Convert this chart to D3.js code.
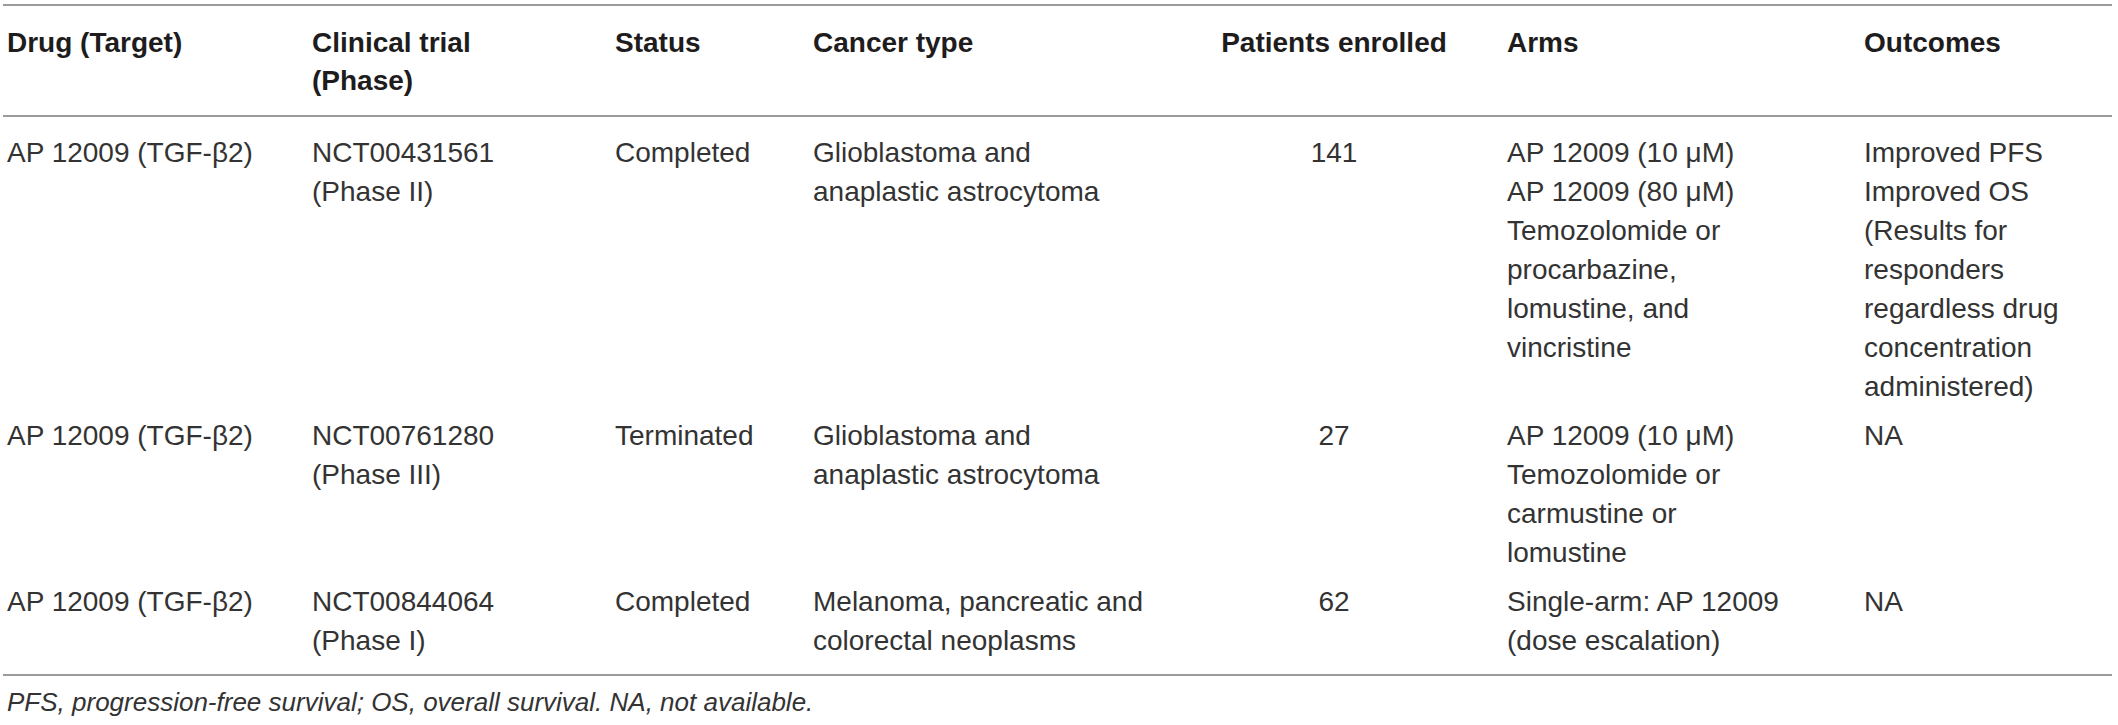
<!DOCTYPE html>
<html>
<head>
<meta charset="utf-8">
<script src="https://cdn.jsdelivr.net/npm/d3@7"></script>
<style>
  html, body { margin: 0; padding: 0; background: #fff; }
  svg { display: block; }
</style>
</head>
<body>
<svg id="chart"></svg>
<script>
// table content
const headers = [['Drug (Target)'], ['Clinical trial', '(Phase)'], ['Status'], ['Cancer type'], ['Patients enrolled'], ['Arms'], ['Outcomes']]
const drugs = ['AP 12009 (TGF-β2)', 'AP 12009 (TGF-β2)', 'AP 12009 (TGF-β2)']
const trials = [['NCT00431561', '(Phase II)'], ['NCT00761280', '(Phase III)'], ['NCT00844064', '(Phase I)']]
const statuses = ['Completed', 'Terminated', 'Completed']
const cancerTypes = [
  ['Glioblastoma and', 'anaplastic astrocytoma'],
  ['Glioblastoma and', 'anaplastic astrocytoma'],
  ['Melanoma, pancreatic and', 'colorectal neoplasms']
]
const patients = [141, 27, 62]
const arms = [
  ['AP 12009 (10 μM)', 'AP 12009 (80 μM)', 'Temozolomide or', 'procarbazine,', 'lomustine, and', 'vincristine'],
  ['AP 12009 (10 μM)', 'Temozolomide or', 'carmustine or', 'lomustine'],
  ['Single-arm: AP 12009', '(dose escalation)']
]
const outcomes = [
  ['Improved PFS', 'Improved OS', '(Results for', 'responders', 'regardless drug', 'concentration', 'administered)'],
  ['NA'],
  ['NA']
]
const footnote = 'PFS, progression-free survival; OS, overall survival. NA, not available.'

const W = 2118
const H = 725
const lineH = 39
const rowGap = 49
const font = '"Liberation Sans", Arial, Helvetica, sans-serif'

const svg = d3.select('#chart').attr('width', W).attr('height', H)

const colKeys = ['drug', 'trial', 'status', 'cancer', 'patients', 'arms', 'outcomes']
const colX = d3.scaleOrdinal()
  .domain(colKeys)
  .range([7, 312, 615, 813, 1334, 1507, 1864])
const anchor = (k) => k === 'patients' ? 'middle' : 'start'

// rows as arrays of line-lists per column
const rows = drugs.map((d, i) => [
  [d], trials[i], [statuses[i]], cancerTypes[i], [String(patients[i])], arms[i], outcomes[i]
])

// row baselines
const rowStart = []
let yy = 162
rows.forEach((r) => {
  rowStart.push(yy)
  const n = d3.max(r, (c) => c.length)
  yy += (n - 1) * lineH + rowGap
})
const bottomY = rowStart[rowStart.length - 1] + (d3.max(rows[rows.length - 1], (c) => c.length) - 1) * lineH + 25

// rules
const rules = [5, 116, bottomY]
svg.selectAll('line.rule')
  .data(rules)
  .enter().append('line')
  .attr('class', 'rule')
  .attr('x1', 3)
  .attr('x2', 2112)
  .attr('y1', (d) => d)
  .attr('y2', (d) => d)
  .attr('stroke', '#9b9b9b')
  .attr('stroke-width', 2)

// multi-line cell helper
function cellLines (sel, step) {
  sel.each(function (lines) {
    const x = d3.select(this).attr('x')
    d3.select(this).selectAll('tspan')
      .data(lines)
      .enter().append('tspan')
      .attr('x', x)
      .attr('dy', (l, j) => j === 0 ? 0 : step)
      .text((l) => l)
  })
}

// header
svg.append('g')
  .attr('font-family', font)
  .attr('font-weight', 'bold')
  .attr('font-size', 28)
  .attr('fill', '#1e1c1d')
  .selectAll('text')
  .data(headers)
  .enter().append('text')
  .attr('x', (d, i) => colX(colKeys[i]))
  .attr('y', 52)
  .attr('text-anchor', (d, i) => anchor(colKeys[i]))
  .call(cellLines, 38)

// body
const body = svg.append('g')
  .attr('font-family', font)
  .attr('font-size', 28)
  .attr('fill', '#333')

rows.forEach((r, ri) => {
  body.append('g')
    .selectAll('text')
    .data(r)
    .enter().append('text')
    .attr('x', (d, i) => colX(colKeys[i]))
    .attr('y', rowStart[ri])
    .attr('text-anchor', (d, i) => anchor(colKeys[i]))
    .call(cellLines, lineH)
})

// footnote
svg.append('text')
  .attr('x', 7)
  .attr('y', bottomY + 36)
  .attr('font-family', font)
  .attr('font-style', 'italic')
  .attr('font-size', 26)
  .attr('fill', '#333')
  .text(footnote)
</script>
</body>
</html>
